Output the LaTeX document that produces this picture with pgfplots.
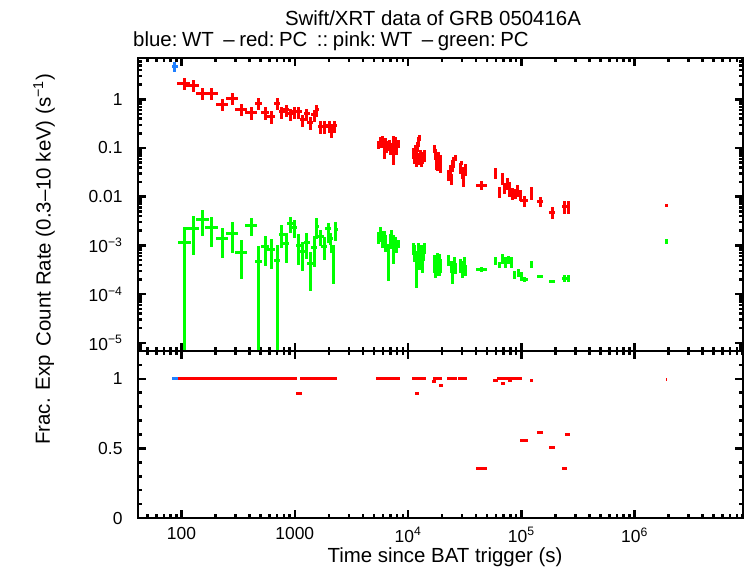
\documentclass[border=0pt]{standalone}
\usepackage{fontspec}
\setmainfont{Liberation Sans}
\usepackage{pgfplots}
\usepackage{pgfplotstable}
\pgfplotsset{compat=1.18}

\definecolor{wtblue}{RGB}{32,128,255}
\definecolor{pcred}{RGB}{255,0,0}
\definecolor{pcgreen}{RGB}{0,255,0}

\newcommand\lblfont{\fontsize{20.5}{24}\selectfont}
\newcommand\tckfont{\fontsize{17.5}{21}\selectfont}
\newcommand\mn{\char"2212\relax}
\newcommand\gapa{\hspace{4.6bp}}
\newcommand\gapb{\hspace{9.5bp}}

% ---- count rate, WT mode (t, dt, rate, drate)
\pgfplotstableread{
t te r re
87.5 5.0 4.73 1.1
}\bluewt

% ---- count rate, PC mode
\pgfplotstableread{
t te r re
105.8 13.8 2.131 0.60
127.1 16.5 1.966 0.55
153.9 20.0 1.328 0.37
184.8 24.0 1.328 0.37
229.3 27.5 0.789 0.22
279.2 33.5 1.048 0.29
335.3 40.0 0.632 0.18
410.9 49.0 0.531 0.15
480.5 38.0 0.828 0.23
546.3 44.0 0.531 0.15
617.0 49.0 0.439 0.125
701.4 42.0 0.828 0.23
767.1 46.0 0.556 0.155
837.1 50.0 0.603 0.17
913.3 55.0 0.499 0.14
990.8 59.0 0.556 0.155
1083.6 65.0 0.556 0.155
1175.9 70.0 0.376 0.105
1275.5 77.0 0.499 0.14
1372.2 82.0 0.331 0.095
1488.1 89.0 0.476 0.13
1562.6 60.0 0.603 0.16
1695.1 100.0 0.274 0.077
1849.4 110.0 0.274 0.077
2006.3 120.0 0.283 0.080
2102.3 120.0 0.2265 0.063
2234.4 130.0 0.283 0.080
5434 136 0.1152 0.022
5659 141 0.1328 0.032
5894 147 0.1392 0.040
6200 155 0.1048 0.046
6327 158 0.1267 0.030
6524 163 0.1099 0.032
6795 170 0.1152 0.028
7077 177 0.1000 0.029
7447 186 0.1099 0.066
7677 192 0.1328 0.038
7915 198 0.1000 0.029
8160 204 0.1208 0.023
11183 280 0.0789 0.019
11298 282 0.0653 0.019
11530 288 0.0910 0.026
11766 294 0.0623 0.021
12009 300 0.1099 0.026
12255 306 0.0623 0.018
12380 310 0.1392 0.033
12634 316 0.1604 0.023
12764 319 0.0685 0.023
13025 326 0.0567 0.016
13292 332 0.0653 0.019
13845 346 0.0718 0.021
16970 424 0.0954 0.018
17320 433 0.0753 0.018
17670 442 0.0567 0.022
18040 451 0.0469 0.0135
18410 460 0.0623 0.021
19170 479 0.0492 0.019
19560 489 0.0567 0.0163
23010 575 0.0279 0.0067
23730 593 0.0353 0.0102
23980 600 0.0231 0.0055
24470 612 0.0448 0.0129
25220 630 0.0516 0.0123
26000 650 0.0623 0.0088
28790 720 0.0388 0.0093
29380 734 0.0492 0.0047
29990 750 0.0322 0.0093
30920 773 0.0242 0.0082
31880 797 0.0370 0.0107
44800 5000 0.0172 0.0035
59250 1480 0.0307 0.0081
64270 1600 0.01249 0.0030
68990 1720 0.0242 0.0070
70410 1760 0.0151 0.0036
76380 1900 0.0191 0.0055
79560 1990 0.0151 0.0051
82850 2070 0.01191 0.0034
88060 2200 0.01191 0.0028
91730 2290 0.01373 0.0040
97500 2440 0.01083 0.0026
105760 7800 0.00816 0.00215
122670 4300 0.01231 0.0038
147330 8700 0.00789 0.00178
188000 11300 0.00478 0.00126
240900 12000 0.0062 0.0018
258700 13000 0.0063 0.0018
1909000 28000 0.00666 0.0004
}\redpc

% ---- second PC series, early bins with asymmetric errors
\pgfplotstableread{
t te r rm rp
106.7 13.8 1.158e-3 1.1579e-3 1.195e-3
127.1 16.5 2.244e-3 1.61e-3 1.77e-3
153.9 20.0 3.435e-3 1.85e-3 1.90e-3
184.8 24.0 2.353e-3 1.41e-3 1.53e-3
229.3 27.5 1.398e-3 8.4e-4 8.5e-4
279.2 33.5 1.772e-3 1.06e-3 1.25e-3
335.3 40.0 7.22e-4 5.2e-4 5.7e-4
410.9 49.0 2.623e-3 1.04e-3 9.8e-4
480.5 38.0 4.72e-4 4.719e-4 5.0e-4
546.3 44.0 9.40e-4 5.6e-4 6.4e-4
617.0 49.0 8.32e-4 5.0e-4 5.0e-4
701.4 42.0 4.94e-4 4.939e-4 5.25e-4
767.1 46.0 1.690e-3 7.9e-4 9.3e-4
837.1 50.0 1.104e-3 6.6e-4 6.7e-4
913.3 55.0 2.843e-3 1.07e-3 1.04e-3
990.8 59.0 2.353e-3 9.6e-4 9.7e-4
1083.6 65.0 9.86e-4 5.9e-4 7.0e-4
1175.9 70.0 7.42e-4 4.5e-4 4.5e-4
1275.5 77.0 1.158e-3 6.3e-4 6.1e-4
1372.2 82.0 4.15e-4 3.0e-4 3.1e-4
1488.1 89.0 9.14e-4 5.5e-4 6.5e-4
1562.6 60.0 2.502e-3 1.17e-3 1.1e-3
1695.1 100.0 1.509e-3 5.4e-4 5.6e-4
1823.2 110.0 9.40e-4 4.4e-4 5.7e-4
1966.1 120.0 2.244e-3 1.14e-3 6.8e-4
2047.8 120.0 1.398e-3 3.8e-4 3.7e-4
2119.7 60.0 8.72e-4 1.8e-4 1.5e-4
2189.6 60.0 5.70e-4 4.1e-4 4.5e-4
2299.2 100.0 2.071e-3 8.2e-4 9.1e-4
}\greenearly

% ---- second PC series, later bins
\pgfplotstableread{
t te r re
5434 136 1.488e-3 4.3e-4
5659 141 1.797e-3 6.1e-4
5894 147 1.419e-3 5.5e-4
6139 153 1.560e-3 4.5e-4
6392 160 1.174e-3 4.5e-4
6726 168 6.35e-4 4.5e-4
6935 173 1.291e-3 4.4e-4
7222 181 1.488e-3 5.8e-4
7447 186 1.019e-3 6.1e-4
7677 192 1.174e-3 3.4e-4
7995 200 9.72e-4 2.8e-4
8243 206 1.068e-3 2.0e-4
11070 277 8.85e-4 2.5e-4
11410 285 7.32e-4 2.8e-4
11766 294 4.56e-4 3.2e-4
12255 306 8.04e-4 3.1e-4
12634 316 6.06e-4 3.0e-4
13025 326 7.32e-4 2.8e-4
13292 332 3.96e-4 1.3e-4
13564 339 6.66e-4 1.9e-4
13987 350 8.85e-4 2.1e-4
16970 424 4.56e-4 1.8e-4
17490 437 3.43e-4 1.3e-4
18040 451 5.51e-4 1.6e-4
18220 455 3.12e-4 7.5e-5
18780 470 4.56e-4 2.2e-4
19560 489 3.96e-4 1.3e-4
23010 575 5.01e-4 1.2e-4
23980 600 3.78e-4 1.1e-4
24710 618 2.84e-4 1.24e-4
25480 637 4.56e-4 1.3e-4
26000 650 3.43e-4 8.2e-5
28790 720 3.96e-4 1.3e-4
29990 750 3.43e-4 1.3e-4
31230 781 4.56e-4 1.3e-4
31880 797 3.12e-4 7.5e-5
44800 5000 3.23e-4 3.8e-5
59250 1480 4.78e-4 9.1e-5
63620 1590 3.96e-4 5.6e-5
68990 1720 5.51e-4 1.3e-4
71870 1800 4.56e-4 1.1e-4
77180 1930 5.01e-4 9.5e-5
81200 2030 4.56e-4 1.1e-4
87160 2180 2.47e-4 4.7e-5
93610 2340 2.71e-4 5.1e-5
99490 2490 2.47e-4 3.5e-5
105760 7800 2.013e-4 2.0e-5
122670 4300 4.15e-4 6.5e-5
147330 8700 2.32e-4 2.0e-5
188000 11300 1.83e-4 1.6e-5
240900 12000 2.11e-4 3.0e-5
258700 13000 2.11e-4 3.0e-5
1909000 28000 1.214e-3 1.3e-4
}\greenlate

% ---- fractional exposure of each bin
\pgfplotstableread{
t te f
87.5 5.0 1.0
}\fracwt

\pgfplotstableread{
t te f
105.8 13.8 1
127.1 16.5 1
153.9 20.0 1
184.8 24.0 1
229.3 27.5 1
279.2 33.5 1
335.3 40.0 1
410.9 49.0 1
480.5 38.0 1
546.3 44.0 1
617.0 49.0 1
701.4 42.0 1
767.1 46.0 1
837.1 50.0 1
913.3 55.0 1
990.8 59.0 1
1083.6 65.0 0.892
1175.9 70.0 1
1275.5 77.0 1
1372.2 82.0 1
1488.1 89.0 1
1562.6 60.0 1
1695.1 100.0 1
1849.4 110.0 1
2006.3 120.0 1
2102.3 120.0 1
2234.4 130.0 1
5434 190 1
5659 198 1
5894 206 1
6200 217 1
6327 221 1
6524 228 1
6795 238 1
7077 248 1
7447 261 1
7677 269 1
7915 277 1
8160 286 1
11183 391 1
11298 395 1
11530 404 1
11766 412 1
12009 420 0.892
12255 429 1
12380 433 1
12634 442 1
12764 447 1
13025 456 1
13292 465 1
13845 485 1
16970 594 0.984
17320 606 1
17670 618 1
18040 631 1
18410 644 1
19170 671 1
19560 685 0.95
23010 805 1
23730 831 1
23980 839 1
24470 856 1
25220 883 1
26000 910 1
28790 1008 1
29380 1028 1
29990 1050 1
30920 1082 1
31880 1116 1
44800 5000 0.358
59250 2666 0.985
64270 2892 1
68990 3105 0.97
70410 3168 1
76380 3437 1
79560 3580 0.99
82850 3728 1
88060 3963 1
91730 4128 1
97500 4388 1
105760 7800 0.56
122670 4300 0.99
147330 8700 0.617
188000 11300 0.509
240900 12000 0.358
258700 13000 0.603
1909000 28000 0.993
}\fracpc

\begin{document}
\begin{tikzpicture}
\path (0,0) rectangle (746bp,568bp);

% count rate panel
\begin{loglogaxis}[
  scale only axis, width=605bp, height=293bp,
  at={(138bp,217bp)}, anchor=south west,
  xmin=41.29, xmax=9.08e6, ymin=6.785e-6, ymax=7.047,
  axis line style={line width=2.5bp},
  tick style={line width=2.5bp, black},
  major tick length=8bp, minor tick length=4bp,
  tick align=inside,
  tick label style={font=\tckfont},
  yticklabel style={xshift=-12bp},
  xtick={100,1000,10000,100000,1000000},
  xticklabels={},
  minor xtick={50,60,70,80,90,200,300,400,500,600,700,800,900,
    2000,3000,4000,5000,6000,7000,8000,9000,
    20000,30000,40000,50000,60000,70000,80000,90000,
    200000,300000,400000,500000,600000,700000,800000,900000,
    2000000,3000000,4000000,5000000,6000000,7000000,8000000,9000000},
  ytick={1e-5,1e-4,1e-3,0.01,0.1,1},
  yticklabels={10\textsuperscript{\mn5},10\textsuperscript{\mn4},10\textsuperscript{\mn3},0.01,0.1,1},
  minor ytick={7e-6,8e-6,9e-6,
    2e-5,3e-5,4e-5,5e-5,6e-5,7e-5,8e-5,9e-5,
    2e-4,3e-4,4e-4,5e-4,6e-4,7e-4,8e-4,9e-4,
    2e-3,3e-3,4e-3,5e-3,6e-3,7e-3,8e-3,9e-3,
    0.02,0.03,0.04,0.05,0.06,0.07,0.08,0.09,
    0.2,0.3,0.4,0.5,0.6,0.7,0.8,0.9,2,3,4,5,6,7},
]
\addplot[only marks, mark=*, mark size=0pt, mark options={draw=none, fill=none},
  error bars/x dir=both, error bars/x explicit,
  error bars/y dir=both, error bars/y explicit,
  error bars/error mark=none,
  error bars/error bar style={line width=3bp, solid, pcred}]
  table[x=t, y=r, x error=te, y error=re] {\redpc};
\addplot[only marks, mark=*, mark size=0pt, mark options={draw=none, fill=none},
  error bars/x dir=both, error bars/x explicit,
  error bars/y dir=both, error bars/y explicit,
  error bars/error mark=none,
  error bars/error bar style={line width=3bp, solid, pcgreen}]
  table[x=t, y=r, x error=te, y error plus=rp, y error minus=rm] {\greenearly};
\addplot[only marks, mark=*, mark size=0pt, mark options={draw=none, fill=none},
  error bars/x dir=both, error bars/x explicit,
  error bars/y dir=both, error bars/y explicit,
  error bars/error mark=none,
  error bars/error bar style={line width=3bp, solid, pcgreen}]
  table[x=t, y=r, x error=te, y error=re] {\greenlate};
\addplot[only marks, mark=*, mark size=0pt, mark options={draw=none, fill=none},
  error bars/x dir=both, error bars/x explicit,
  error bars/y dir=both, error bars/y explicit,
  error bars/error mark=none,
  error bars/error bar style={line width=3bp, solid, wtblue}]
  table[x=t, y=r, x error=te, y error=re] {\bluewt};
\end{loglogaxis}

% fractional exposure panel
\begin{semilogxaxis}[
  scale only axis, width=605bp, height=167bp,
  at={(138bp,50bp)}, anchor=south west,
  xmin=41.29, xmax=9.08e6, ymin=0, ymax=1.2,
  axis line style={line width=2.5bp},
  tick style={line width=2.5bp, black},
  major tick length=8bp, minor tick length=4bp,
  tick align=inside,
  tick label style={font=\tckfont},
  yticklabel style={xshift=-12bp},
  xticklabel style={yshift=-6bp},
  xtick={100,1000,10000,100000,1000000},
  xticklabels={100,1000,10\textsuperscript{4},10\textsuperscript{5},10\textsuperscript{6}},
  minor xtick={50,60,70,80,90,200,300,400,500,600,700,800,900,
    2000,3000,4000,5000,6000,7000,8000,9000,
    20000,30000,40000,50000,60000,70000,80000,90000,
    200000,300000,400000,500000,600000,700000,800000,900000,
    2000000,3000000,4000000,5000000,6000000,7000000,8000000,9000000},
  ytick={0,0.5,1}, yticklabels={0,0.5,1},
  minor ytick={0.1,0.2,0.3,0.4,0.6,0.7,0.8,0.9,1.1},
]
\addplot[only marks, mark=*, mark size=0pt, mark options={draw=none, fill=none},
  error bars/x dir=both, error bars/x explicit,
  error bars/error mark=none,
  error bars/error bar style={line width=3bp, solid, pcred}]
  table[x=t, y=f, x error=te] {\fracpc};
\addplot[only marks, mark=*, mark size=0pt, mark options={draw=none, fill=none},
  error bars/x dir=both, error bars/x explicit,
  error bars/error mark=none,
  error bars/error bar style={line width=3bp, solid, wtblue}]
  table[x=t, y=f, x error=te] {\fracwt};
\end{semilogxaxis}

\node[font=\lblfont] at (433bp,550bp) {Swift/XRT data of GRB 050416A};
\node[font=\lblfont, anchor=west, inner sep=0pt] at (133bp,527bp)
  {blue:\gapa WT\gapb--\gapa red:\gapa PC\gapb::\gapa pink:\gapa WT\gapb--\gapa green:\gapa PC};
\node[font=\lblfont, rotate=90] at (44bp,358bp)
  {Count Rate (0.3--10 keV) (s\textsuperscript{\mn1})};
\node[font=\lblfont, rotate=90] at (45bp,168bp) {Frac. Exp};
\node[font=\lblfont] at (445bp,11bp) {Time since BAT trigger (s)};
\end{tikzpicture}
\end{document}
